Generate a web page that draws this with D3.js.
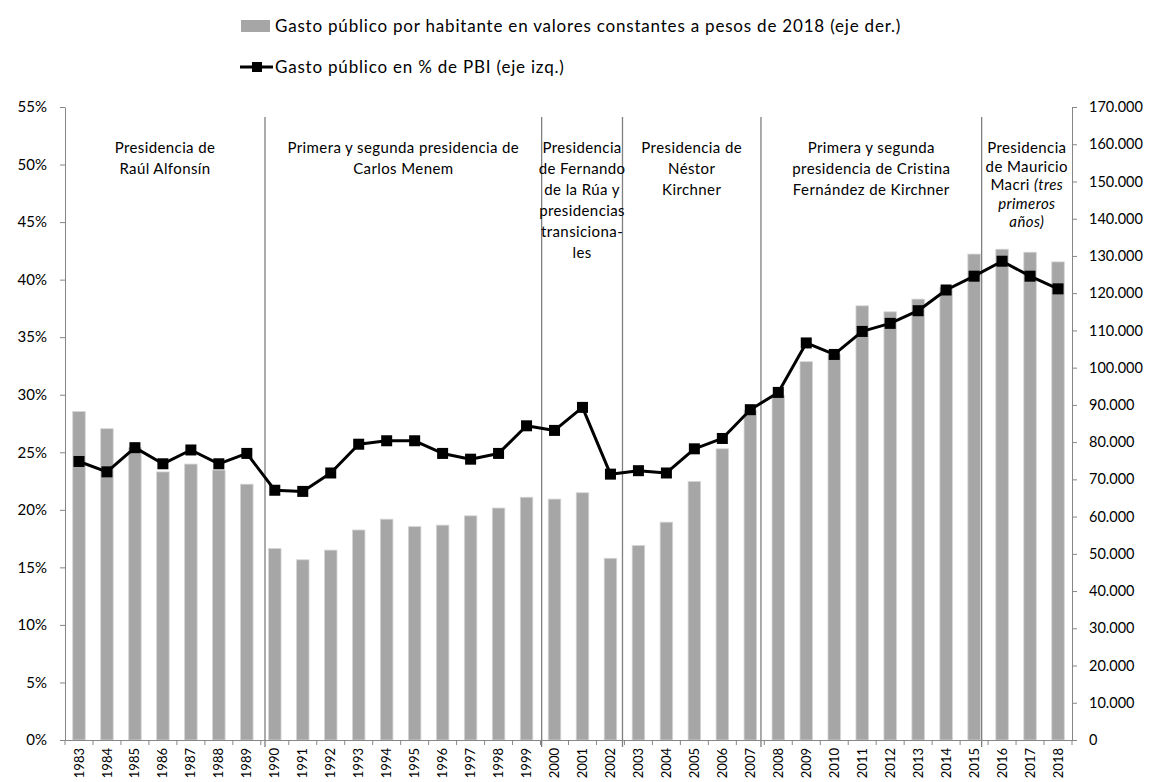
<!DOCTYPE html>
<html>
<head>
<meta charset="utf-8">
<script src="https://cdn.jsdelivr.net/npm/d3@7"></script>
<style>
  body { margin: 0; background: #fff; }
  svg { font-family: Lato, "Open Sans", sans-serif; }
</style>
</head>
<body>
<svg id="chart" width="1152" height="782"></svg>
<script>
const years = ["1983","1984","1985","1986","1987","1988","1989","1990","1991","1992","1993","1994",
  "1995","1996","1997","1998","1999","2000","2001","2002","2003","2004","2005","2006","2007","2008",
  "2009","2010","2011","2012","2013","2014","2015","2016","2017","2018"]

// gasto por habitante, pesos de 2018 (eje der.)
const gastoHabitante = [88200, 83600, 78500, 72000, 74100, 72500, 68700, 51400, 48400, 51000, 56400, 59300,
  57300, 57700, 60200, 62300, 65200, 64700, 66400, 48800, 52200, 58500, 69400, 78200, 88500, 92500,
  101600, 103500, 116600, 115000, 118400, 121500, 130500, 131800, 131000, 128400]

// gasto en % del PBI (eje izq.)
const gastoPBI = [24.2, 23.3, 25.4, 24.0, 25.2, 24.0, 24.9, 21.7, 21.6, 23.2, 25.7, 26.0,
  26.0, 24.9, 24.4, 24.9, 27.3, 26.9, 28.9, 23.1, 23.4, 23.2, 25.3, 26.2, 28.7, 30.2,
  34.5, 33.5, 35.5, 36.2, 37.3, 39.1, 40.3, 41.6, 40.3, 39.2]

const leftTicks = [0, 0.05, 0.10, 0.15, 0.20, 0.25, 0.30, 0.35, 0.40, 0.45, 0.50, 0.55]
const rightTicks = [0, 10000, 20000, 30000, 40000, 50000, 60000, 70000, 80000, 90000, 100000,
  110000, 120000, 130000, 140000, 150000, 160000, 170000]

const legendBars = "Gasto público por habitante en valores constantes a pesos de 2018 (eje der.)"
const legendLine = "Gasto público en % de PBI (eje izq.)"

// separadores de mandatos, en unidades de categoria desde el borde izquierdo
const separadores = [7.15, 17.04, 19.93, 24.88, 32.77]
const periodos = [
  { lineas: [["Presidencia de"], ["Raúl Alfonsín"]], paso: 21 },
  { lineas: [["Primera y segunda presidencia de"], ["Carlos Menem"]], paso: 21 },
  { lineas: [["Presidencia"], ["de Fernando"], ["de la Rúa y"], ["presidencias"], ["transiciona-"], ["les"]], paso: 21 },
  { lineas: [["Presidencia de"], ["Néstor"], ["Kirchner"]], paso: 21 },
  { lineas: [["Primera y segunda"], ["presidencia de Cristina"], ["Fernández de Kirchner"]], paso: 21 },
  { lineas: [["Presidencia"], ["de Mauricio"], ["Macri ", "(tres"], ["", "primeros"], ["", "años)"]], paso: 18.5 }
]

const svg = d3.select("#chart")
const axisColor = "#868686"

const x = d3.scaleBand().domain(years).range([65, 1072]).padding(0)
const step = x.step()
const yL = d3.scaleLinear().domain([0, 0.55]).range([740, 107])
const yR = d3.scaleLinear().domain([0, 170000]).range([740, 107])

const loc = d3.formatLocale({ decimal: ",", thousands: ".", grouping: [3], currency: ["$", ""] })

// barras
const barW = 12.5
svg.append("g").selectAll("rect")
  .data(years)
  .enter().append("rect")
  .attr("x", (d) => x(d) + (step - barW) / 2)
  .attr("y", (d, i) => yR(gastoHabitante[i]))
  .attr("width", barW)
  .attr("height", (d, i) => yR(0) - yR(gastoHabitante[i]))
  .attr("fill", "#a6a6a6")
  .attr("stroke", "#d4d4d4")
  .attr("stroke-width", 0.8)

// separadores
svg.append("g").selectAll("line")
  .data(separadores)
  .enter().append("line")
  .attr("x1", (d) => 65 + d * step)
  .attr("x2", (d) => 65 + d * step)
  .attr("y1", 117)
  .attr("y2", 747)
  .attr("stroke", "#7f7f7f")
  .attr("stroke-width", 1.3)

// ejes
const gL = svg.append("g")
  .attr("transform", "translate(65,0)")
  .call(d3.axisLeft(yL).tickValues(leftTicks).tickFormat(d3.format(".0%")).tickSize(5).tickSizeOuter(0).tickPadding(13))
const gR = svg.append("g")
  .attr("transform", "translate(1072,0)")
  .call(d3.axisRight(yR).tickValues(rightTicks).tickFormat(loc.format(",d")).tickSize(5).tickSizeOuter(0).tickPadding(12))
const gB = svg.append("g")
  .attr("transform", "translate(0,740)")
  .call(d3.axisBottom(x).tickSize(0).tickSizeOuter(0).tickPadding(0))

gB.selectAll(".tick text")
  .attr("transform", "rotate(-90)")
  .attr("x", -8)
  .attr("y", 0)
  .attr("dy", "0.35em")
  .style("text-anchor", "end")
  .style("font-size", "13px")

gB.selectAll(".boundary")
  .data(d3.range(years.length + 1))
  .enter().append("line")
  .attr("class", "boundary")
  .attr("x1", (i) => 65 + i * step)
  .attr("x2", (i) => 65 + i * step)
  .attr("y1", 0)
  .attr("y2", 5)
  .attr("stroke", axisColor)

for (const g of [gL, gR, gB]) {
  g.selectAll("path, line").attr("stroke", axisColor)
  g.selectAll("text").attr("fill", "#000").style("font-family", "Lato, 'Open Sans', sans-serif")
}
gL.selectAll("text").style("font-size", "15px")
gR.selectAll("text").style("font-size", "14.5px")

// linea % PBI
const line = d3.line()
  .x((d, i) => x(years[i]) + step / 2)
  .y((d) => yL(d / 100))

svg.append("path")
  .datum(gastoPBI)
  .attr("d", line)
  .attr("fill", "none")
  .attr("stroke", "#000")
  .attr("stroke-width", 3)
  .attr("stroke-linejoin", "round")

const mk = 11
svg.append("g").selectAll("rect")
  .data(gastoPBI)
  .enter().append("rect")
  .attr("x", (d, i) => x(years[i]) + step / 2 - mk / 2)
  .attr("y", (d) => yL(d / 100) - mk / 2)
  .attr("width", mk)
  .attr("height", mk)
  .attr("fill", "#000")

// textos de mandatos
const bordes = [0, ...separadores, years.length]
periodos.forEach((p, k) => {
  const cx = 65 + (bordes[k] + bordes[k + 1]) / 2 * step
  const t = svg.append("text")
    .attr("text-anchor", "middle")
    .style("font-size", "15px")
    .style("letter-spacing", "0.4px")
  p.lineas.forEach((ln, j) => {
    const row = t.append("tspan").attr("x", cx).attr("y", 153 + j * p.paso)
    row.append("tspan").text(ln[0])
    if (ln[1]) row.append("tspan").style("font-style", "italic").text(ln[1])
  })
})

// leyenda
const lg = svg.append("g").style("font-size", "17px").style("letter-spacing", "0.8px")
lg.append("rect").attr("x", 241).attr("y", 20).attr("width", 29).attr("height", 12).attr("fill", "#a6a6a6")
lg.append("text").attr("x", 275).attr("y", 32).text(legendBars)
lg.append("line").attr("x1", 240).attr("x2", 273).attr("y1", 67).attr("y2", 67)
  .attr("stroke", "#000").attr("stroke-width", 3)
lg.append("rect").attr("x", 252).attr("y", 62).attr("width", 10).attr("height", 10).attr("fill", "#000")
lg.append("text").attr("x", 275).attr("y", 73).text(legendLine)
</script>
</body>
</html>
